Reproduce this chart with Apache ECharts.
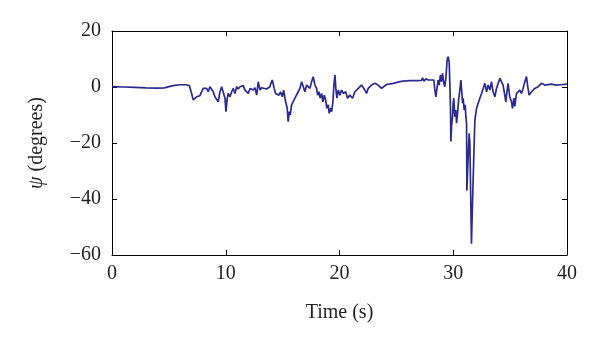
<!DOCTYPE html>
<html>
<head>
<meta charset="utf-8">
<script src="https://cdn.jsdelivr.net/npm/echarts@6/dist/echarts.min.js"></script>
<style>
html,body{margin:0;padding:0;background:#fff;}
#chart{width:600px;height:343px;}
</style>
</head>
<body>
<div id="chart"></div>
<script>
// Time (s)
const times = [0,1,2,3,4,4.6,5.1,5.5,6,6.5,6.8,7.0,7.14,7.29,7.44,7.73,8.02,8.17,8.32,8.46,8.61,8.76,8.9,9.05,9.2,9.34,9.49,9.64,9.78,9.93,10.02,10.13,10.22,10.37,10.52,10.66,10.81,10.96,11.1,11.25,11.4,11.54,11.69,11.84,11.98,12.13,12.28,12.42,12.57,12.72,12.86,13.01,13.15,13.3,13.59,13.88,
13.97,14.09,14.26,14.38,14.53,14.67,14.82,14.96,15.09,15.2,15.32,15.4,15.49,15.58,15.67,15.79,15.93,16.08,16.23,16.37,16.52,16.67,16.81,16.96,17.11,17.25,17.4,17.55,17.69,17.84,17.99,18.08,18.19,18.3,18.43,18.54,18.66,18.78,18.89,19.01,19.09,19.22,19.31,19.42,19.51,19.6,19.68,19.77,19.89,20.04,20.18,20.36,20.54,20.71,20.91,21.15,21.35,21.65,21.94,22.23,22.38,22.52,22.82,23.11,23.4,23.7,23.84,24.14,24.72,25.31,25.6,26.19,26.78,27.22,27.3,27.42,27.6,27.8,27.94,28.09,28.18,28.3,28.38,28.47,28.59,28.67,28.76,28.88,28.97,29.06,29.17,29.26,29.35,29.46,29.55,29.64,29.7,29.76,29.79,29.85,29.94,29.99,30.05,30.14,30.23,30.29,30.38,30.47,30.58,30.67,30.76,30.82,30.87,30.96,31.05,31.11,31.17,31.2,31.28,31.4,31.46,31.6,31.75,31.9,32.05,32.34,32.49,32.63,32.78,32.93,33.07,33.22,33.36,33.5,33.66,33.8,33.95,34.1,34.24,34.38,34.53,34.62,34.74,34.82,34.97,35.12,35.21,35.33,35.41,35.56,35.7,35.85,36.0,36.14,36.29,36.44,36.53,36.67,36.88,37.17,37.46,37.76,38.05,38.64,39.08,39.66,40];
// Yaw angle psi (degrees)
const psi = [0.1,0,-0.1,-0.3,-0.4,-0.3,0.2,0.6,0.8,0.8,0.5,-2.3,-4.6,-4.0,-3.5,-3.1,-0.5,-1.1,-0.5,-1.7,0.1,0.5,-1.7,-3.5,-2.9,-5.3,-1.7,0.1,-0.5,-4.0,-8.8,-4.0,-2.3,-3.5,-1.7,-0.5,-2.3,0.1,-0.7,0.1,-0.5,0.5,-1.1,-0.7,-2.3,-0.5,0.1,-1.1,-0.25,-2.9,1.9,-1.1,-0.25,-0.5,-0.7,0.1,
1.3,2.5,-0.5,-2.3,-1.7,-2.9,-1.7,-3.5,-1.1,-4.0,-4.6,-7.6,-12.4,-8.8,-10,-6.4,-7.0,-4.0,-4.6,-1.7,-0.5,1.9,1.3,-1.7,0.7,1.3,-0.5,1.9,3.7,0.7,-0.5,-2.9,-1.7,-4.0,-2.3,-5.3,-2.9,-4.6,-7.6,-6.4,-9.4,-7.6,-8.8,-5.3,0.7,4.3,-0.5,-4.0,-1.1,-2.9,-1.1,-2.3,-1.7,-4.0,-2.9,-4.0,-1.7,-0.5,0.7,-1.1,-2.3,-0.5,0.7,1.3,0.7,-0.5,0.1,0.9,1.3,1.9,2.1,2.3,2.3,2.4,3.3,2.1,2.9,2.5,3.1,2.5,1.9,2.5,-1.1,-3.5,0.1,2.5,0.7,4.3,1.9,4.9,1.3,0.1,3.1,9.6,10.8,9.0,1.3,-8.2,-19.5,-14.2,-10.6,-5.8,-4.0,-10.6,-8.2,-12.9,-9.4,-4.6,-1.1,2.5,-2.3,-5.8,-4.0,-8.2,-6.4,-10.6,-13,-37,-28,-16.5,-20,-56,-33,-11.8,-7.6,-4.0,-2.3,-2.9,1.3,-1.7,0.7,-1.1,1.9,-1.7,-3.5,-0.5,1.3,3.1,3.7,0.7,-2.9,-5.3,-1.1,1.3,-3.5,-5.3,-7.6,-4.0,-6.9,-2.3,-2.9,-1.1,-2.3,-0.5,1.9,3.7,0.7,-2.9,-1.7,-0.5,0.1,1.3,0.7,1.0,0.7,0.9,1.0];
const xTicks = [0,10,20,30,40];
const yTicks = [-60,-40,-20,0,20];

const seriesData = times.map((t,i)=>[t,psi[i]]);
const FONT = '"Liberation Serif","DejaVu Serif",serif';
const fmt = v => (v<0 ? '\u2212' + Math.abs(v) : String(v));

const chart = echarts.init(document.getElementById('chart'), null, {renderer:'canvas'});
const axisLine = {show:true, onZero:false, lineStyle:{color:'#000', width:1}};
const tick = {show:true, inside:true, length:5, lineStyle:{color:'#000'}};
chart.setOption({
  animation:false,
  backgroundColor:'#fff',
  grid:{left:112, right:33, top:31, bottom:88, containLabel:false},
  xAxis:[{
    type:'value', min:xTicks[0], max:xTicks[xTicks.length-1], interval:10,
    axisLine:axisLine, axisTick:tick, splitLine:{show:false},
    axisLabel:{formatter:fmt, color:'#231f20', fontFamily:FONT, fontSize:20, margin:9},
    name:'Time (s)', nameLocation:'middle', nameGap:48,
    nameTextStyle:{color:'#231f20', fontFamily:FONT, fontSize:20}
  },{
    type:'value', position:'top', min:0, max:40, interval:10,
    axisLine:axisLine, axisTick:tick, axisLabel:{show:false}, splitLine:{show:false}
  }],
  yAxis:[{
    type:'value', min:yTicks[0], max:yTicks[yTicks.length-1], interval:20,
    axisLine:axisLine, axisTick:tick, splitLine:{show:false},
    axisLabel:{formatter:fmt, color:'#231f20', fontFamily:FONT, fontSize:20, margin:11},
    name:'{i|ψ} (degrees)', nameLocation:'middle', nameGap:65, nameRotate:90,
    nameTextStyle:{color:'#231f20', fontFamily:FONT, fontSize:20,
      rich:{i:{fontStyle:'italic', fontFamily:FONT, fontSize:20, color:'#231f20'}}}
  },{
    type:'value', position:'right', min:-60, max:20, interval:20,
    axisLine:axisLine, axisTick:tick, axisLabel:{show:false}, splitLine:{show:false}
  }],
  series:[{
    type:'line', data:seriesData, xAxisIndex:0, yAxisIndex:0,
    showSymbol:false, symbol:'none',
    lineStyle:{color:'#2d2a8e', width:1.7}
  }]
});
</script>
</body>
</html>
